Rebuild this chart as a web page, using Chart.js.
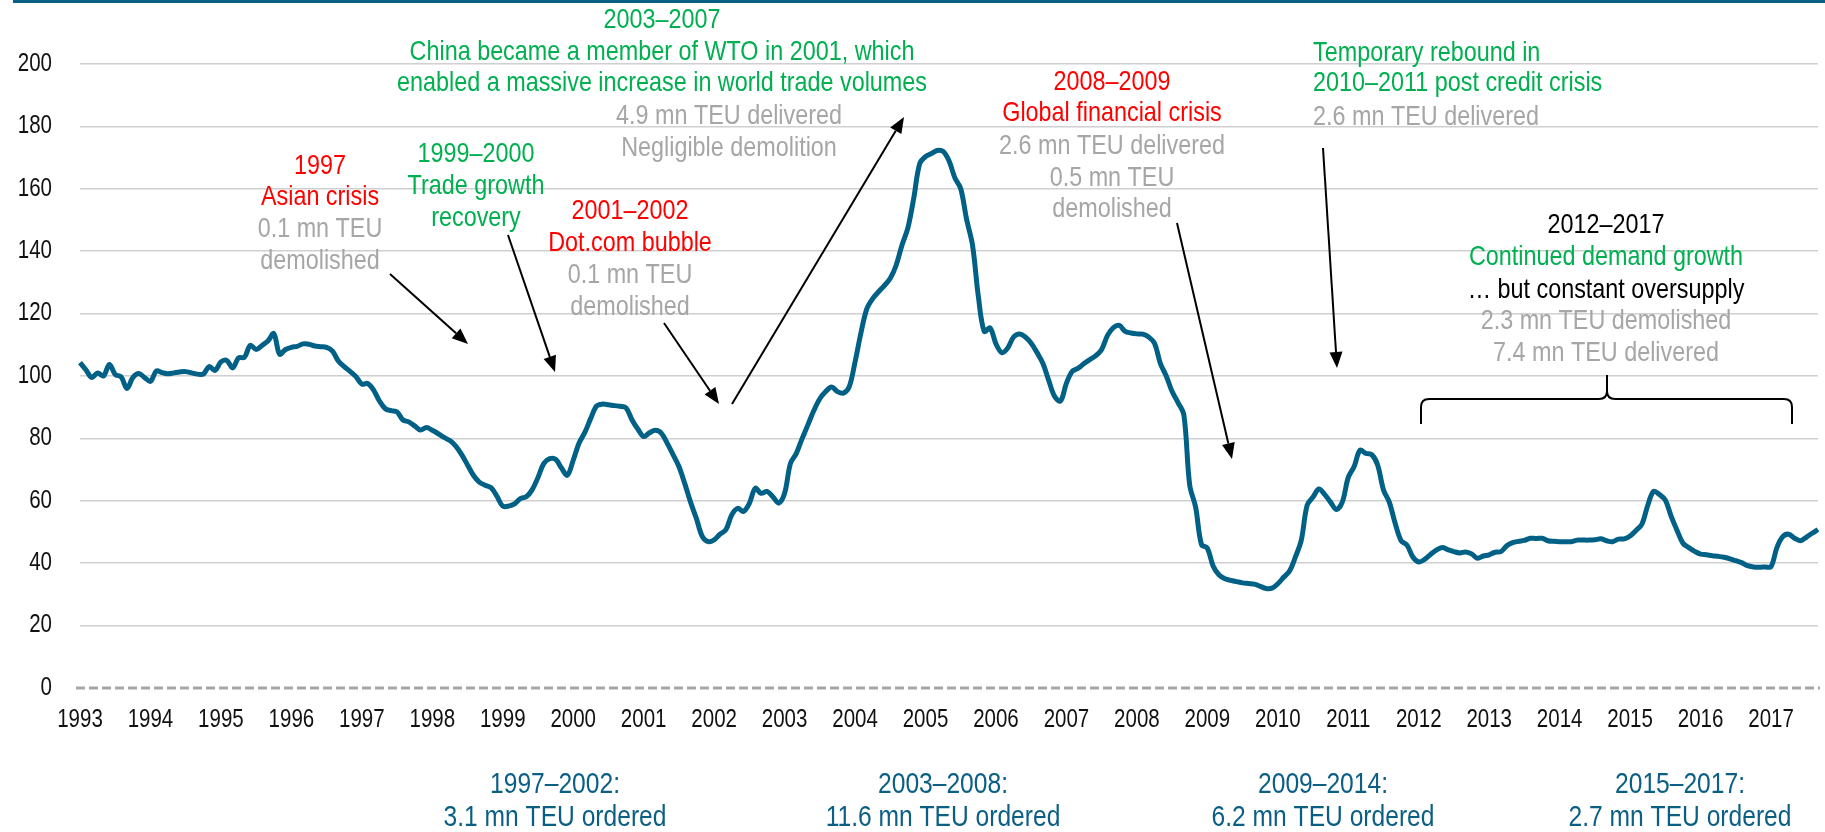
<!DOCTYPE html>
<html>
<head>
<meta charset="utf-8">
<title>Indice del mercado de portacontenedores</title>
<script src="https://cdn.jsdelivr.net/npm/chart.js@4.4.1/dist/chart.umd.min.js"></script>
<style>
  html, body { margin: 0; padding: 0; background: #fff; }
  #contenedor { position: relative; width: 1825px; height: 832px; }
</style>
</head>
<body>
<div id="contenedor"><canvas id="grafico"></canvas></div>
<script>
/* Etiquetas del eje x (un valor por mes, solo se muestra el año en enero) */
const anios = ['1993', '1994', '1995', '1996', '1997', '1998', '1999', '2000', '2001', '2002', '2003', '2004', '2005',
  '2006', '2007', '2008', '2009', '2010', '2011', '2012', '2013', '2014', '2015', '2016', '2017'];
const meses = ['01', '02', '03', '04', '05', '06', '07', '08', '09', '10', '11', '12'];

/* Serie mensual, ene-1993 a sep-2017 */
const indice = [
  104.3, 102, 99.5, 101, 100, 103.7, 100.5, 99.7, 96, 99.5, 100.8, 99.5,        // 1993
  98.3, 101.6, 101.1, 100.7, 101, 101.3, 101.4, 101, 100.6, 100.6, 103, 101.8,  // 1994
  104.5, 105, 102.6, 105.8, 106, 109.8, 108.5, 109.8, 111.2, 113.6, 107, 108.5, // 1995
  109.2, 109.5, 110.3, 110.2, 109.6, 109.4, 109.2, 108, 104.8, 103, 101.5, 99.8, // 1996
  97.4, 97.6, 95.5, 92, 89.5, 88.9, 88.5, 85.9, 85.3, 84, 82.7, 83.5,           // 1997
  82.6, 81.5, 80.3, 79.3, 77.5, 74.8, 71.5, 68.2, 66, 65, 64.2, 61.5,           // 1998
  58.3, 58.3, 59, 60.7, 61.3, 63.5, 67.5, 72, 73.5, 73.3, 70.5, 68.2,           // 1999
  73, 78.5, 82, 86.5, 90.4, 91, 90.8, 90.5, 90.3, 89.8, 86, 83,                 // 2000
  80.6, 81.8, 82.6, 81.7, 78.5, 74.8, 71, 65.5, 59.5, 54.2, 48.5, 46.9,         // 2001
  47.5, 49.3, 50.7, 55.5, 57.6, 56.6, 59.2, 64, 62.4, 63, 61.3, 59.3,           // 2002
  62.4, 72, 75.2, 80, 84.5, 89, 92.7, 95, 96.5, 95, 94.5, 96.5,                 // 2003
  104.5, 113.8, 121.5, 124.8, 127, 129, 131.3, 135.5, 142, 147.5, 157, 168,     // 2004
  170.3, 171.3, 172.3, 172, 169, 163.5, 160, 150.2, 142, 125.5, 114.3, 115.4,   // 2005
  110.3, 107.5, 109, 112.5, 113.5, 112.5, 110.5, 107.5, 104, 98.5, 93.4, 92,    // 2006
  97.7, 101.5, 102.5, 104, 105.3, 106.5, 108.5, 113, 115.5, 116.2, 114.3, 113.8, // 2007
  113.5, 113.4, 112.5, 110.5, 104, 100, 95, 91.5, 87.5, 65, 58, 46,             // 2008
  44.8, 39, 36.2, 35, 34.5, 34.1, 33.7, 33.5, 33.3, 32.6, 31.9, 32,             // 2009
  33.4, 35.5, 37.5, 42, 47.4, 58.6, 61.2, 63.8, 62, 59.5, 57.2, 59.7,           // 2010
  67.5, 71, 76.2, 75.2, 74.8, 71.5, 63.5, 59.5, 52.7, 47.2, 45.8, 42,           // 2011
  40.4, 41.2, 42.8, 44.2, 45, 44.3, 43.7, 43.3, 43.6, 43, 41.6, 42.3,           // 2012
  42.7, 43.5, 43.7, 45.6, 46.6, 47, 47.3, 48, 47.9, 48, 47.2, 47,               // 2013
  46.9, 46.9, 46.9, 47.4, 47.4, 47.4, 47.5, 47.8, 47.2, 46.9, 47.7, 47.8,       // 2014
  48.7, 50.5, 52.5, 58.5, 63, 62, 60.2, 55, 50.5, 46.4, 45, 43.8,               // 2015
  42.9, 42.7, 42.4, 42.2, 41.9, 41.4, 40.8, 40.2, 39.2, 38.8, 38.7, 38.8,       // 2016
  38.9, 45, 48.5, 49.3, 48, 47.2, 48.3, 49.6, 50.8                              // 2017
];

const etiquetas = anios.flatMap(a => meses.map(m => a + '-' + m)).slice(0, indice.length);

/* No hay fuente estrecha instalada: se usa Liberation Sans comprimida en horizontal */
const FUENTE = '"Liberation Sans", Arial, sans-serif';
const ESTRECHO = 0.82;
const ROJO = '#ff0000';
const VERDE = '#00b050';
const GRIS = '#a6a6a6';
const NEGRO = '#000000';
const AZUL = '#0b5f84';

/* Textos de las anotaciones: [texto, x, y, color, alineacion] */
const notas = [
  ['1997', 320, 166, ROJO], ['Asian crisis', 320, 197, ROJO], ['0.1 mn TEU', 320, 229, GRIS], ['demolished', 320, 261, GRIS],
  ['1999–2000', 476, 154, VERDE], ['Trade growth', 476, 186, VERDE], ['recovery', 476, 218, VERDE],
  ['2001–2002', 630, 211, ROJO], ['Dot.com bubble', 630, 243, ROJO], ['0.1 mn TEU', 630, 275, GRIS], ['demolished', 630, 307, GRIS],
  ['2003–2007', 662, 20, VERDE], ['China became a member of WTO in 2001, which', 662, 52, VERDE],
  ['enabled a massive increase in world trade volumes', 662, 83, VERDE],
  ['4.9 mn TEU delivered', 729, 116, GRIS], ['Negligible demolition', 729, 148, GRIS],
  ['2008–2009', 1112, 82, ROJO], ['Global financial crisis', 1112, 113, ROJO], ['2.6 mn TEU delivered', 1112, 146, GRIS],
  ['0.5 mn TEU', 1112, 178, GRIS], ['demolished', 1112, 209, GRIS],
  ['Temporary rebound in', 1313, 53, VERDE, 'left'], ['2010–2011 post credit crisis', 1313, 83, VERDE, 'left'],
  ['2.6 mn TEU delivered', 1313, 117, GRIS, 'left'],
  ['2012–2017', 1606, 225, NEGRO], ['Continued demand growth', 1606, 257, VERDE], ['… but constant oversupply', 1606, 290, NEGRO],
  ['2.3 mn TEU demolished', 1606, 321, GRIS], ['7.4 mn TEU delivered', 1606, 353, GRIS]
];

/* Pedidos por periodo, debajo del eje */
const pedidos = [
  ['1997–2002:', '3.1 mn TEU ordered', 555],
  ['2003–2008:', '11.6 mn TEU ordered', 943],
  ['2009–2014:', '6.2 mn TEU ordered', 1323],
  ['2015–2017:', '2.7 mn TEU ordered', 1680]
];

/* Flechas: [x inicio, y inicio, x punta, y punta] */
const flechas = [
  [390, 274, 468, 344],
  [508, 235, 555, 372],
  [664, 323, 719, 404],
  [732, 404, 904, 117],
  [1177, 223, 1232, 459],
  [1323, 148, 1337, 368]
];

/* Texto estrecho: se comprime el eje x del contexto */
function texto(ctx, t, x, y, alin) {
  ctx.save();
  ctx.translate(x, y);
  ctx.scale(ESTRECHO, 1);
  ctx.textAlign = alin || 'center';
  ctx.fillText(t, 0, 0);
  ctx.restore();
}

function dibujaFlecha(ctx, x1, y1, x2, y2) {
  const ang = Math.atan2(y2 - y1, x2 - x1);
  const largo = 16, ancho = 6.5;
  const bx = x2 - largo * Math.cos(ang), by = y2 - largo * Math.sin(ang);
  ctx.beginPath();
  ctx.moveTo(x1, y1);
  ctx.lineTo(bx, by);
  ctx.stroke();
  ctx.beginPath();
  ctx.moveTo(x2, y2);
  ctx.lineTo(bx + ancho * Math.sin(ang), by - ancho * Math.cos(ang));
  ctx.lineTo(bx - ancho * Math.sin(ang), by + ancho * Math.cos(ang));
  ctx.closePath();
  ctx.fill();
}

const anotaciones = {
  id: 'anotaciones',
  beforeDatasetsDraw(chart) {
    const { ctx, chartArea, scales } = chart;
    // linea de cero punteada
    const y0 = scales.y.getPixelForValue(0);
    ctx.save();
    ctx.strokeStyle = '#a6a6a6';
    ctx.lineWidth = 2.8;
    ctx.setLineDash([9, 4]);
    ctx.beginPath();
    ctx.moveTo(chartArea.left - 4, y0);
    ctx.lineTo(chartArea.right + 2, y0);
    ctx.stroke();
    ctx.restore();
  },
  afterDraw(chart) {
    const { ctx, chartArea, scales } = chart;
    ctx.save();
    // barra superior
    ctx.fillStyle = AZUL;
    ctx.fillRect(13, 0, 1825 - 13, 3);

    ctx.textBaseline = 'middle';

    // etiquetas de los ejes, en las posiciones que da cada escala
    ctx.font = '25px ' + FUENTE;
    ctx.fillStyle = '#111';
    scales.y.ticks.forEach((t, i) => {
      texto(ctx, String(t.value), chartArea.left - 28, scales.y.getPixelForTick(i), 'right');
    });
    scales.x.ticks.forEach((t, i) => {
      if (t.label) texto(ctx, t.label, scales.x.getPixelForTick(i), 720);
    });

    ctx.font = '28.5px ' + FUENTE;
    notas.forEach(([t, x, y, color, alin]) => {
      ctx.fillStyle = color;
      texto(ctx, t, x, y, alin);
    });

    ctx.font = '30px ' + FUENTE;
    ctx.fillStyle = AZUL;
    pedidos.forEach(([periodo, total, x]) => {
      texto(ctx, periodo, x, 785);
      texto(ctx, total, x, 818);
    });

    ctx.strokeStyle = NEGRO;
    ctx.fillStyle = NEGRO;
    ctx.lineWidth = 2;
    flechas.forEach(f => dibujaFlecha(ctx, ...f));

    // llave 2012-2017
    ctx.beginPath();
    ctx.moveTo(1421, 424);
    ctx.lineTo(1421, 407);
    ctx.quadraticCurveTo(1421, 399, 1429, 399);
    ctx.lineTo(1599, 399);
    ctx.quadraticCurveTo(1607, 399, 1607, 391);
    ctx.lineTo(1607, 375);
    ctx.moveTo(1607, 391);
    ctx.quadraticCurveTo(1607, 399, 1615, 399);
    ctx.lineTo(1784, 399);
    ctx.quadraticCurveTo(1792, 399, 1792, 407);
    ctx.lineTo(1792, 424);
    ctx.stroke();
    ctx.restore();
  }
};

new Chart(document.querySelector('#grafico'), {
  type: 'line',
  data: {
    labels: etiquetas,
    datasets: [{
      data: indice,
      borderColor: '#006085',
      borderWidth: 5,
      pointRadius: 0,
      tension: 0.35,
      fill: false
    }]
  },
  options: {
    responsive: true,
    maintainAspectRatio: false,
    animation: false,
    layout: { padding: { top: 64, right: 7, left: 0, bottom: 0 } },
    plugins: { legend: { display: false }, tooltip: { enabled: false } },
    scales: {
      x: {
        offset: false,
        grid: { display: false },
        border: { display: false },
        ticks: {
          autoSkip: false,
          maxRotation: 0,
          minRotation: 0,
          color: 'rgba(0,0,0,0)',
          font: { family: FUENTE, size: 25 },
          callback: (v, i) => etiquetas[i].endsWith('-01') ? etiquetas[i].slice(0, 4) : ''
        },
        afterFit: s => { s.height = 144; }
      },
      y: {
        min: 0,
        max: 200,
        grid: {
          color: c => c.tick.value === 0 ? 'rgba(0,0,0,0)' : '#d0d0d0',
          lineWidth: 1.5,
          drawTicks: false
        },
        border: { display: false },
        ticks: { stepSize: 20, color: 'rgba(0,0,0,0)', font: { family: FUENTE, size: 25 } },
        afterFit: s => { s.width = 80; }
      }
    }
  },
  plugins: [anotaciones]
});
</script>
</body>
</html>
